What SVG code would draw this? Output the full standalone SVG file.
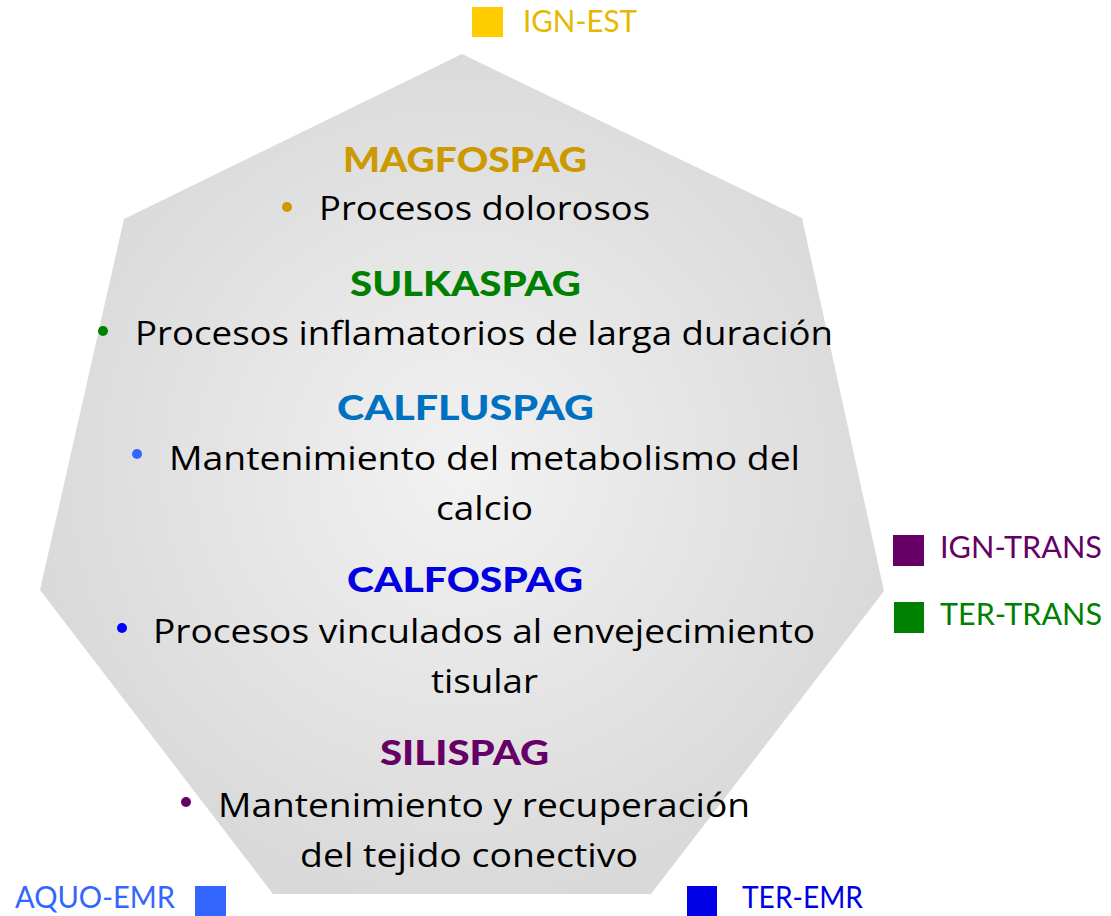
<svg xmlns="http://www.w3.org/2000/svg" width="1111" height="916" viewBox="0 0 1111 916">
<defs>
<radialGradient id="bg" cx="462" cy="470" r="440" gradientUnits="userSpaceOnUse">
<stop offset="0" stop-color="#f2f2f2"/>
<stop offset="1" stop-color="#d9d9d9"/>
</radialGradient>
<style>
.t{font-family:Lato,"Liberation Sans",sans-serif;font-weight:900;font-size:34px}
.b{font-family:"Open Sans","Liberation Sans",sans-serif;font-size:32px;fill:#000}
.l{font-family:Lato,"Liberation Sans",sans-serif;font-size:30px}
</style>
</defs>
<g id="heptagon">
<polygon points="462,54 802,218 884,591 651,894 273,894 40,590 124,219" fill="url(#bg)"/>
</g>
<g id="magfospag">
<text class="t" x="343" y="172" fill="#cc9900" textLength="244" lengthAdjust="spacingAndGlyphs">MAGFOSPAG</text>
<circle cx="287" cy="207" r="5" fill="#cc9900"/>
<text class="b" x="319" y="220" textLength="331" lengthAdjust="spacingAndGlyphs">Procesos dolorosos</text>
</g>
<g id="sulkaspag">
<text class="t" x="350" y="296" fill="#008000" textLength="231" lengthAdjust="spacingAndGlyphs">SULKASPAG</text>
<circle cx="103" cy="331" r="5" fill="#008000"/>
<text class="b" x="135" y="345" textLength="698" lengthAdjust="spacingAndGlyphs">Procesos inflamatorios de larga duración</text>
</g>
<g id="calfluspag">
<text class="t" x="337" y="420" fill="#0070c0" textLength="257" lengthAdjust="spacingAndGlyphs">CALFLUSPAG</text>
<circle cx="137" cy="454" r="5" fill="#3366ff"/>
<text class="b" x="169" y="470" textLength="631" lengthAdjust="spacingAndGlyphs">Mantenimiento del metabolismo del</text>
<text class="b" x="436" y="520" textLength="97" lengthAdjust="spacingAndGlyphs">calcio</text>
</g>
<g id="calfospag">
<text class="t" x="347" y="592" fill="#0000e0" textLength="236" lengthAdjust="spacingAndGlyphs">CALFOSPAG</text>
<circle cx="122" cy="628" r="5" fill="#0000ff"/>
<text class="b" x="153" y="643" textLength="662" lengthAdjust="spacingAndGlyphs">Procesos vinculados al envejecimiento</text>
<text class="b" x="431" y="693" textLength="107" lengthAdjust="spacingAndGlyphs">tisular</text>
</g>
<g id="silispag">
<text class="t" x="380" y="765" fill="#660066" textLength="169" lengthAdjust="spacingAndGlyphs">SILISPAG</text>
<circle cx="186" cy="802" r="5" fill="#660066"/>
<text class="b" x="218" y="817" textLength="532" lengthAdjust="spacingAndGlyphs">Mantenimiento y recuperación</text>
<text class="b" x="300" y="867" textLength="338" lengthAdjust="spacingAndGlyphs">del tejido conectivo</text>
</g>
<g id="legend-ign-est">
<rect x="472" y="7" width="31" height="30" fill="#ffcc00"/>
<text class="l" x="523" y="32" fill="#e6b800" textLength="114" lengthAdjust="spacingAndGlyphs">IGN-EST</text>
</g>
<g id="legend-ign-trans">
<rect x="893" y="535" width="31" height="31" fill="#660066"/>
<text class="l" x="940" y="558" fill="#660066" textLength="162" lengthAdjust="spacingAndGlyphs">IGN-TRANS</text>
</g>
<g id="legend-ter-trans">
<rect x="894" y="602" width="30" height="31" fill="#008000"/>
<text class="l" x="940" y="625" fill="#008000" textLength="162" lengthAdjust="spacingAndGlyphs">TER-TRANS</text>
</g>
<g id="legend-aquo-emr">
<text class="l" x="15" y="908" fill="#3366ff" textLength="160" lengthAdjust="spacingAndGlyphs">AQUO-EMR</text>
<rect x="195" y="886" width="31" height="30" fill="#3366ff"/>
</g>
<g id="legend-ter-emr">
<rect x="687" y="886" width="30" height="30" fill="#0000e6"/>
<text class="l" x="742" y="908" fill="#0000e6" textLength="121" lengthAdjust="spacingAndGlyphs">TER-EMR</text>
</g>
<g id="connectors"/>
</svg>
